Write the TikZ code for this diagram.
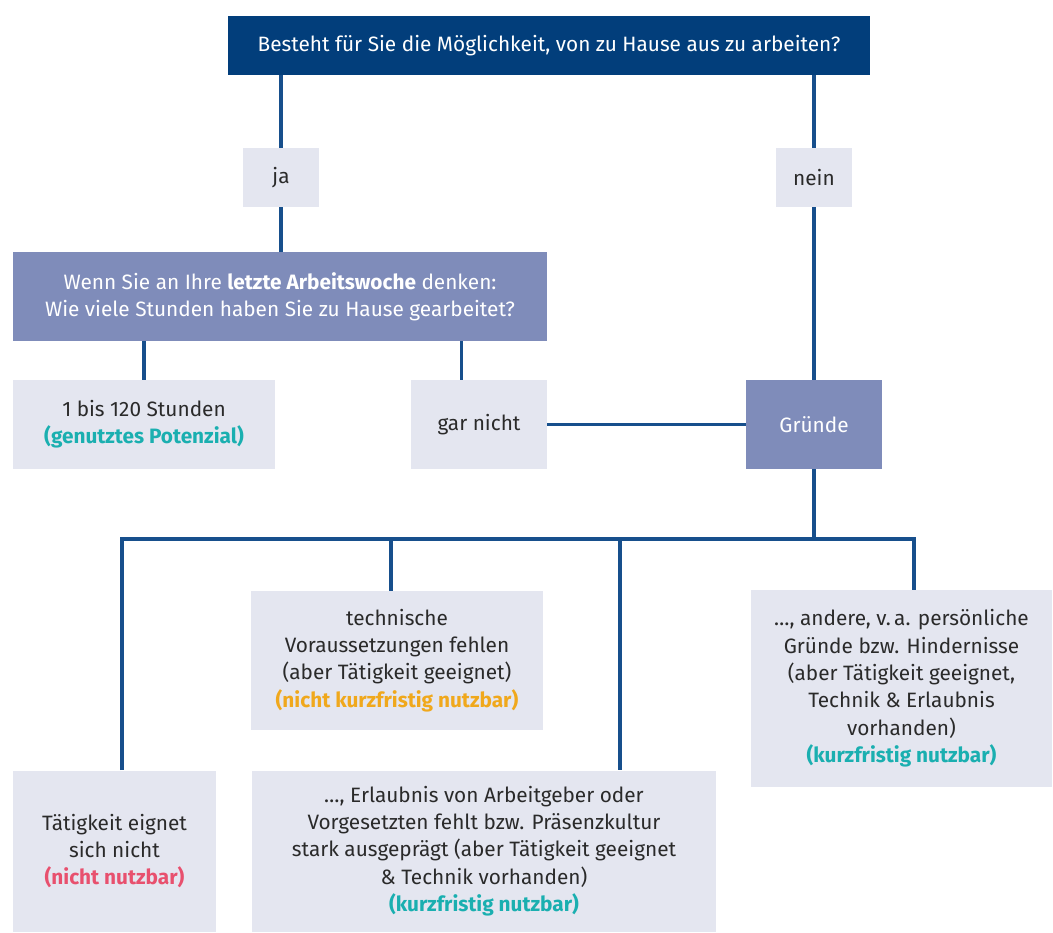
\documentclass[tikz,border=0pt]{standalone}
\usepackage{fontspec}
\setmainfont{Fira Sans}
\usetikzlibrary{positioning,calc}
\definecolor{navy}{HTML}{023E7B}
\definecolor{midblue}{HTML}{7F8CBA}
\definecolor{pale}{HTML}{E4E6F0}
\definecolor{wire}{HTML}{174F8C}
\definecolor{ink}{HTML}{2A2A2A}
\definecolor{teal}{HTML}{1AAFB0}
\definecolor{rose}{HTML}{E8506E}
\definecolor{amber}{HTML}{F0A81C}

\begin{document}
\begin{tikzpicture}[x=0.75pt, y=-0.75pt,
  font=\fontsize{15.6}{20.5}\selectfont,
  box/.style={fill=pale, text=ink, align=center, inner sep=0pt},
  headbox/.style={fill=navy, text=white, align=center, inner sep=0pt},
  askbox/.style={fill=midblue, text=white, align=center, inner sep=0pt},
  wire/.style={draw=wire, line width=2.3pt}]
\useasboundingbox (0,0) rectangle (1053,932);

% Question
\node[headbox, minimum width=481.5pt, minimum height=44.25pt] (top) at (549,45.5) {Besteht für Sie die Möglichkeit, von zu Hause aus zu arbeiten?};

% Answers
\node[box, minimum width=57pt, minimum height=44.25pt] (ja) at (281,177.5) {ja};
\node[box, minimum width=57pt, minimum height=44.25pt] (nein) at (814,177.5) {nein};
\node[askbox, minimum width=400.5pt, minimum height=66.75pt] (week) at (280,296.5) {Wenn Sie an Ihre \textbf{letzte Arbeitswoche} denken:\\Wie viele Stunden haben Sie zu Hause gearbeitet?};
\node[box, minimum width=196.5pt, minimum height=66.75pt] (hours) at (144,424.5) {1 bis 120 Stunden\\\textcolor{teal}{\textbf{(genutztes Potenzial)}}};
\node[box, minimum width=102pt, minimum height=66.75pt] (never) at (479,424.5) {gar nicht};
\node[askbox, minimum width=102pt, minimum height=66.75pt] (reasons) at (814,424.5) {Gründe};

% Reasons
\node[box, minimum width=219pt, minimum height=104.25pt] (tech) at (397,660.5) {technische\\Voraussetzungen fehlen\\(aber Tätigkeit geeignet)\\\textcolor{amber}{\textbf{(nicht kurzfristig nutzbar)}}};
\node[box, minimum width=225.75pt, minimum height=147.75pt] (other) at (901.5,688.5) {…, andere, v.\,a. persönliche\\Gründe bzw. Hindernisse\\(aber Tätigkeit geeignet,\\Technik \& Erlaubnis\\vorhanden)\\\textcolor{teal}{\textbf{(kurzfristig nutzbar)}}};
\node[box, minimum width=152.25pt, minimum height=120.75pt] (unfit) at (114.5,851) {Tätigkeit eignet\\sich nicht\\\textcolor{rose}{\textbf{(nicht nutzbar)}}};
\node[box, minimum width=348pt, minimum height=120.75pt] (boss) at (484,851) {…, Erlaubnis von Arbeitgeber oder\\Vorgesetzten fehlt bzw. Präsenzkultur\\stark ausgeprägt (aber Tätigkeit geeignet\\\& Technik vorhanden)\\\textcolor{teal}{\textbf{(kurzfristig nutzbar)}}};

% Bus
\coordinate (b1) at (122,539);
\coordinate (b2) at (391,539);
\coordinate (b3) at (620,539);
\coordinate (b4) at (914,539);
\coordinate (gn) at ($(never.north west)+(51,0)$);

% Lines
\draw[wire] (ja.north) -- (ja.north |- top.south);
\draw[wire] (ja.south) -- (ja.south |- week.north);
\draw[wire] (nein.north) -- (nein.north |- top.south);
\draw[wire] (nein.south) -- (reasons.north);
\draw[wire] (hours.north) -- (hours.north |- week.south);
\draw[wire] (gn) -- (gn |- week.south);
\draw[wire] (never.east) -- (reasons.west);
\draw[wire] (reasons.south) -- (reasons.south |- b1);
\draw[wire] (b1 |- unfit.north) -- (b1) -- (b4) -- (b4 |- other.north);
\draw[wire] (b2) -- (b2 |- tech.north);
\draw[wire] (b3) -- (b3 |- boss.north);

\end{tikzpicture}
\end{document}
